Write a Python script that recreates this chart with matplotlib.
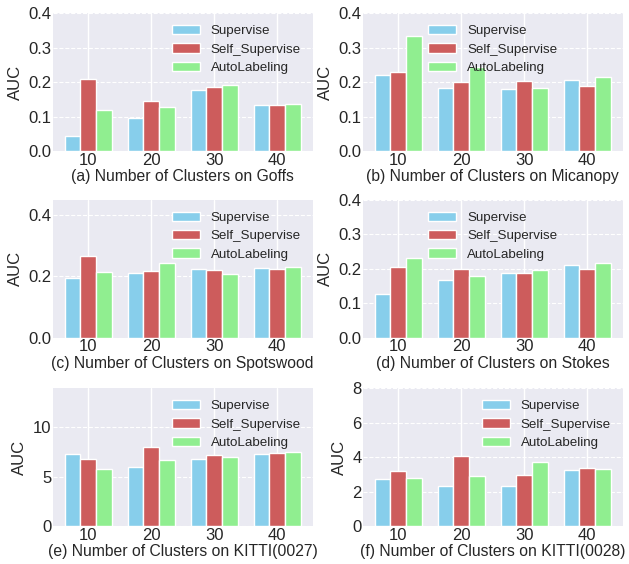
import numpy as np
import matplotlib.pyplot as plt

clusters = ['10', '20', '30', '40']
methods = ['Supervise', 'Self_Supervise', 'AutoLabeling']
colors = ['#87CEEB', '#CD5C5C', '#90EE90']

# AUC for each dataset: rows = methods, columns = cluster counts
goffs = [[0.043, 0.097, 0.177, 0.134],
         [0.209, 0.145, 0.186, 0.135],
         [0.120, 0.128, 0.192, 0.137]]
micanopy = [[0.221, 0.183, 0.181, 0.206],
            [0.228, 0.201, 0.204, 0.188],
            [0.332, 0.245, 0.183, 0.215]]
spotswood = [[0.196, 0.212, 0.225, 0.227],
             [0.268, 0.218, 0.222, 0.223],
             [0.214, 0.245, 0.209, 0.230]]
stokes = [[0.126, 0.168, 0.189, 0.212],
          [0.205, 0.198, 0.187, 0.200],
          [0.232, 0.179, 0.195, 0.216]]
kitti27 = [[7.23, 5.91, 6.76, 7.23],
           [6.76, 8.00, 7.13, 7.33],
           [5.74, 6.62, 6.93, 7.47]]
kitti28 = [[2.75, 2.31, 2.31, 3.27],
           [3.17, 4.04, 2.96, 3.35],
           [2.77, 2.88, 3.69, 3.31]]

panels = [
    (goffs, '(a) Number of Clusters on Goffs', (0, 0.4), [0, 0.1, 0.2, 0.3, 0.4], 'upper right'),
    (micanopy, '(b) Number of Clusters on Micanopy', (0, 0.4), [0, 0.1, 0.2, 0.3, 0.4], 'upper center'),
    (spotswood, '(c) Number of Clusters on Spotswood', (0, 0.45), [0, 0.2, 0.4], 'upper right'),
    (stokes, '(d) Number of Clusters on Stokes', (0, 0.4), [0, 0.1, 0.2, 0.3, 0.4], 'upper center'),
    (kitti27, '(e) Number of Clusters on KITTI(0027)', (0, 13.9), [0, 5, 10], 'upper right'),
    (kitti28, '(f) Number of Clusters on KITTI(0028)', (0, 8), [0, 2, 4, 6, 8], 'upper right'),
]

plt.style.use('seaborn-v0_8-darkgrid')
fig = plt.figure(figsize=(6.29, 5.64), dpi=100)

lefts = [0.084, 0.577]
bottoms = [0.732, 0.401, 0.067]
w, h = 0.413, 0.245
width = 0.25
x = np.arange(len(clusters))

for i, (data, xlabel, ylim, yticks, loc) in enumerate(panels):
    ax = fig.add_axes([lefts[i % 2], bottoms[i // 2], w, h])
    for j, name in enumerate(methods):
        ax.bar(x + (j - 1) * width, data[j], width, color=colors[j],
               edgecolor='white', linewidth=1, label=name, zorder=2)
    ax.set_xticks(x)
    ax.set_xticklabels(clusters, fontsize=12)
    ax.set_ylim(*ylim)
    ax.set_yticks(yticks)
    if yticks[-1] < 1:
        ax.set_yticklabels(['%.1f' % t for t in yticks], fontsize=12)
    else:
        ax.set_yticklabels([str(t) for t in yticks], fontsize=12)
    ax.set_xlabel(xlabel, fontsize=11.3, labelpad=1)
    ax.set_ylabel('AUC', fontsize=12)
    ax.tick_params(axis='both', pad=1)
    ax.xaxis.grid(True, linestyle='-', color='white', linewidth=1)
    ax.yaxis.grid(True, linestyle='--', color='white', linewidth=0.8)
    ax.set_axisbelow(True)
    ax.legend(loc=loc, fontsize=9.6, frameon=False, handlelength=2.1,
              labelspacing=0.45)

plt.savefig('out.png', dpi=100)
